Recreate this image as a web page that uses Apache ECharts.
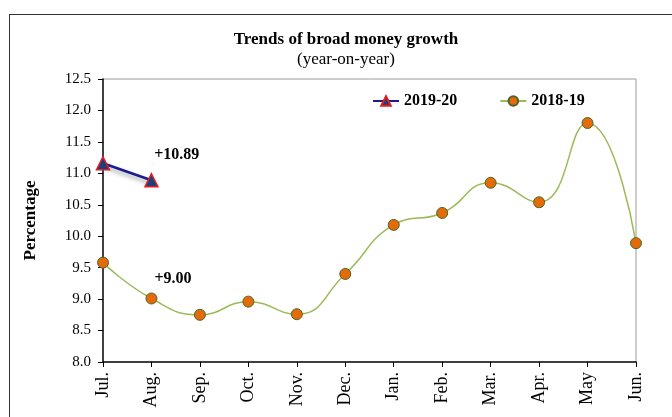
<!DOCTYPE html>
<html>
<head>
<meta charset="utf-8">
<script src="https://cdn.jsdelivr.net/npm/echarts@6/dist/echarts.min.js"></script>
<style>
  html, body { margin: 0; padding: 0; background: #fff; }
  #chart { width: 672px; height: 417px; }
  #frame { position: absolute; left: 9px; top: 14px; width: 680px; height: 420px; border: 1px solid #333; pointer-events: none; }
</style>
</head>
<body>
<div id="chart"></div>
<div id="frame"></div>
<script>
// months of fiscal year
const months = ["Jul.", "Aug.", "Sep.", "Oct.", "Nov.", "Dec.", "Jan.", "Feb.", "Mar.", "Apr.", "May", "Jun."]
// broad money growth, percent
const fy1920 = [11.16, 10.89]
const fy1819 = [9.58, 9.01, 8.75, 8.96, 8.76, 9.40, 10.18, 10.37, 10.85, 10.54, 11.80, 9.89]
const yTicks = ["8.0", "8.5", "9.0", "9.5", "10.0", "10.5", "11.0", "11.5", "12.0", "12.5"]

const serif = "'Liberation Serif', 'Times New Roman', serif"
const chart = echarts.init(document.getElementById("chart"))

const option = {
  animation: false,
  title: {
    text: "Trends of broad money growth",
    subtext: "(year-on-year)",
    left: 341,
    textAlign: "center",
    top: 26,
    itemGap: 3,
    textStyle: { fontFamily: serif, fontSize: 17, fontWeight: "bold", color: "#000" },
    subtextStyle: { fontFamily: serif, fontSize: 17, color: "#000" },
  },
  legend: {
    top: 88,
    left: 367,
    itemGap: 42,
    itemWidth: 26,
    itemHeight: 12,
    textStyle: { fontFamily: serif, fontSize: 16, fontWeight: "bold", color: "#000" },
    data: ["2019-20", "2018-19"],
  },
  grid: { left: 103, right: 36, top: 79, bottom: 55 },
  xAxis: {
    type: "category",
    data: months,
    boundaryGap: false,
    axisLine: { lineStyle: { color: "#000", width: 1.5 } },
    axisTick: { alignWithLabel: true, length: 5, lineStyle: { color: "#000" } },
    axisLabel: { rotate: 90, fontFamily: serif, fontSize: 18, color: "#000", margin: 10 },
    splitLine: { show: false },
  },
  yAxis: {
    type: "value",
    min: 8,
    max: 12.5,
    interval: 0.5,
    name: "Percentage",
    nameLocation: "middle",
    nameGap: 64,
    nameRotate: 90,
    nameTextStyle: { fontFamily: serif, fontSize: 17, fontWeight: "bold", color: "#000" },
    axisLine: { show: true, lineStyle: { color: "#000", width: 1.5 } },
    axisTick: { show: true, length: 5, lineStyle: { color: "#000" } },
    axisLabel: {
      fontFamily: serif, fontSize: 15, color: "#000", margin: 12,
      formatter: (v) => yTicks[Math.round((v - 8) / 0.5)],
    },
    splitLine: { show: false },
  },
  graphic: [
    // top and right edges of the plot area
    { type: "line", shape: { x1: 103, y1: 79, x2: 636, y2: 79 }, style: { stroke: "#999", lineWidth: 1 } },
    { type: "line", shape: { x1: 636, y1: 79, x2: 636, y2: 362 }, style: { stroke: "#999", lineWidth: 1 } },
  ],
  series: [
    {
      name: "2019-20",
      type: "line",
      data: fy1920,
      symbol: "triangle",
      symbolSize: 13,
      z: 3,
      lineStyle: { color: "#1c1c8c", width: 2.5, shadowColor: "rgba(0,0,0,0.35)", shadowBlur: 4, shadowOffsetY: 3 },
      itemStyle: { color: "#1f3f7a", borderColor: "#e02020", borderWidth: 1.5 },
      label: {
        show: true,
        formatter: (p) => (p.dataIndex === 1 ? "+" + p.value.toFixed(2) : ""),
        position: [10, -26],
        fontFamily: serif, fontSize: 16, fontWeight: "bold", color: "#000",
      },
    },
    {
      name: "2018-19",
      type: "line",
      data: fy1819,
      smooth: 0.5,
      symbol: "circle",
      symbolSize: 11,
      lineStyle: { color: "#9bbb59", width: 1.5 },
      itemStyle: { color: "#e36c09", borderColor: "#4f6228", borderWidth: 1 },
      label: {
        show: true,
        formatter: (p) => (p.dataIndex === 1 ? "+9.00" : ""),
        position: [9, -22],
        fontFamily: serif, fontSize: 16, fontWeight: "bold", color: "#000",
      },
    },
  ],
}

chart.setOption(option)
</script>
</body>
</html>
